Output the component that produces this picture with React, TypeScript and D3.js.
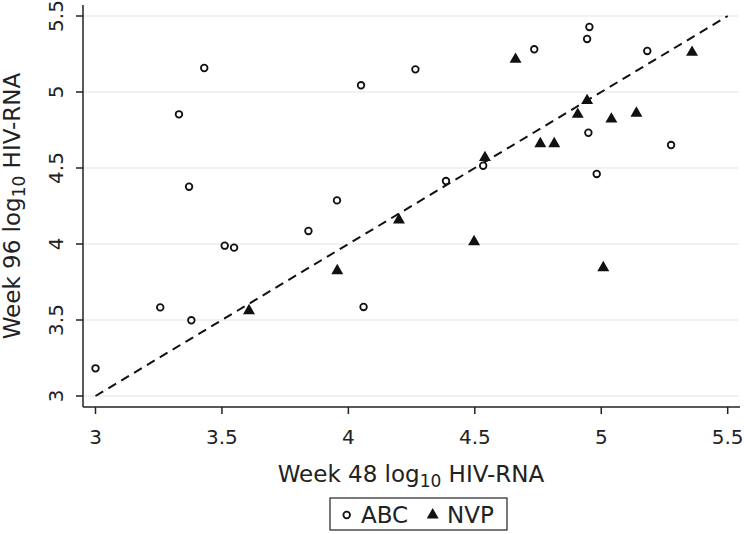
import React from "react";
import * as d3 from "d3";

const abcX = [3.43, 3.33, 3.37, 3.955, 4.05, 4.265, 4.735, 4.953, 4.944, 5.182, 4.949, 5.276, 4.982, 4.533, 4.386, 3.842, 3.511, 3.548, 3.256, 3.379, 4.06, 3.0];
const abcY = [5.158, 4.853, 4.377, 4.287, 5.044, 5.149, 5.281, 5.428, 5.349, 5.27, 4.732, 4.651, 4.461, 4.515, 4.414, 4.086, 3.989, 3.976, 3.583, 3.498, 3.586, 3.182];
const nvpX = [4.661, 5.359, 4.944, 4.907, 5.04, 5.139, 4.759, 4.814, 4.54, 4.2, 3.607, 3.956, 4.497, 5.008];
const nvpY = [5.215, 5.261, 4.943, 4.853, 4.822, 4.86, 4.66, 4.66, 4.568, 4.158, 3.561, 3.824, 4.015, 3.844];
const ticks = [3, 3.5, 4, 4.5, 5, 5.5];
const tickLabels = ["3", "3.5", "4", "4.5", "5", "5.5"];
const legendLabels = ["ABC", "NVP"];

const W = 744;
const H = 534;
const FONT = "'DejaVu Sans', Verdana, sans-serif";

export default function App() {
  const x = d3.scaleLinear().domain([3, 5.5]).range([95.5, 727.7]);
  const y = d3.scaleLinear().domain([3, 5.5]).range([396, 16]);
  const axL = 83, axR = 740, axT = 5, axB = 407;
  const tri = d3.symbol().type(d3.symbolTriangle).size(62)();
  const line = d3.line<number>().x((v) => x(v)).y((v) => y(v));

  return (
    <svg width={W} height={H} style={{ position: "absolute", left: 0, top: 0, background: "#fff" }} fontFamily={FONT}>
      {ticks.map((t) => (
        <line key={"g" + t} x1={axL} x2={738} y1={y(t)} y2={y(t)} stroke="#ececec" strokeWidth={1.5} />
      ))}
      <line x1={axL} x2={axL} y1={axT} y2={axB} stroke="#222" strokeWidth={1.5} />
      <line x1={axL} x2={axR} y1={axB} y2={axB} stroke="#222" strokeWidth={1.5} />
      {ticks.map((t, i) => (
        <g key={"xt" + t}>
          <line x1={x(t)} x2={x(t)} y1={axB} y2={axB + 7} stroke="#222" strokeWidth={1.5} />
          <text x={x(t)} y={444} textAnchor="middle" fontSize={20} fill="#222">{tickLabels[i]}</text>
        </g>
      ))}
      {ticks.map((t, i) => (
        <g key={"yt" + t}>
          <line x1={axL - 7} x2={axL} y1={y(t)} y2={y(t)} stroke="#222" strokeWidth={1.5} />
          <text transform={`translate(63,${y(t)}) rotate(-90)`} textAnchor="middle" fontSize={20} fill="#222">{tickLabels[i]}</text>
        </g>
      ))}
      <path d={line([3, 5.5]) || ""} stroke="#111" strokeWidth={2} strokeDasharray="9,6" fill="none" />
      {abcX.map((v, i) => (
        <circle key={"a" + i} cx={x(v)} cy={y(abcY[i])} r={3.3} fill="#fff" stroke="#111" strokeWidth={1.8} />
      ))}
      {nvpX.map((v, i) => (
        <path key={"n" + i} d={tri || ""} transform={`translate(${x(v)},${y(nvpY[i])})`} fill="#111" />
      ))}
      <text x={411} y={482} textAnchor="middle" fontSize={23} fill="#222">
        Week 48 log<tspan fontSize={17} dy={5}>10</tspan><tspan dy={-5}> HIV-RNA</tspan>
      </text>
      <text transform={`translate(20,206) rotate(-90)`} textAnchor="middle" fontSize={23} fill="#222">
        Week 96 log<tspan fontSize={17} dy={5}>10</tspan><tspan dy={-5}> HIV-RNA</tspan>
      </text>
      <rect x={330} y={498} width={177} height={32} fill="#fff" stroke="#222" strokeWidth={1.2} />
      <circle cx={346.7} cy={515} r={3.3} fill="#fff" stroke="#111" strokeWidth={1.8} />
      <text x={361} y={523} fontSize={23} fill="#222">{legendLabels[0]}</text>
      <path d={tri || ""} transform="translate(432.7,515)" fill="#111" />
      <text x={447} y={523} fontSize={23} fill="#222">{legendLabels[1]}</text>
    </svg>
  );
}
